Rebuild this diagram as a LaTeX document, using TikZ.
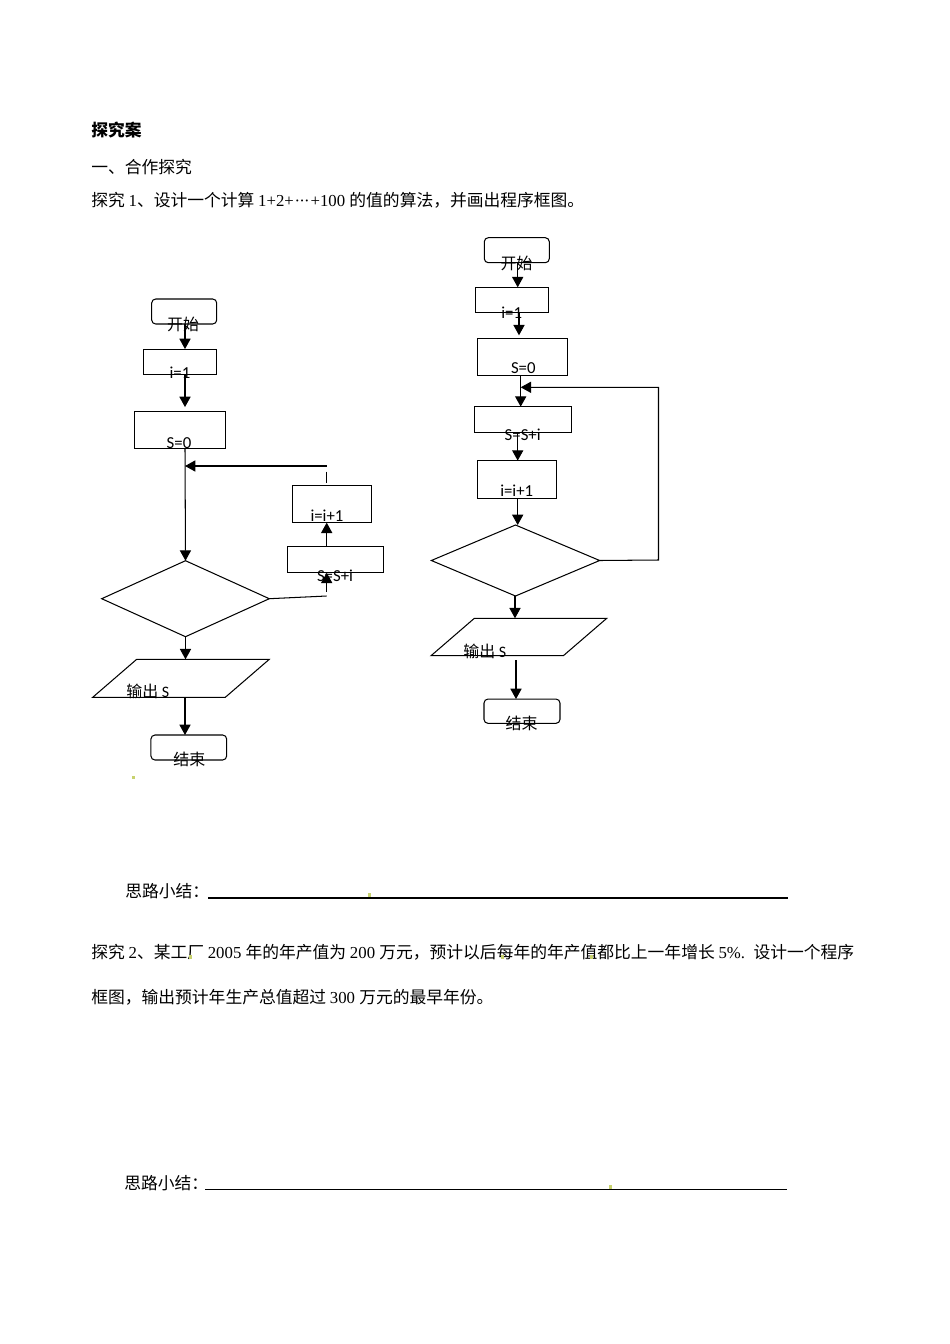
\documentclass[tikz,border=0pt]{standalone}
\usepackage{fontspec}
\setmainfont{Liberation Serif}
\newfontfamily\cjk{Noto Sans CJK SC}
\newfontfamily\carl{Carlito}
\usetikzlibrary{arrows.meta,shapes.geometric}
\tikzset{
  wh/.style 2 args={minimum width=#1*0.626pt,minimum height=#2*0.626pt},
  fbox/.style={draw,line width=0.65pt,inner sep=0pt,outer sep=0pt,rectangle},
  rbox/.style={fbox,rounded corners=2.5pt},
  dia/.style={draw,line width=0.65pt,inner sep=0pt,outer sep=0pt,diamond},
  ghost/.style={inner sep=0pt,outer sep=0pt,rectangle,draw=none},
  ln/.style={line width=0.65pt},
  arr/.style={line width=0.65pt,-{Triangle[length=6.5pt,width=7pt]}},
  lab/.style={inner sep=0pt,font=\carl\fontsize{10.5}{12}\selectfont},
  clab/.style={inner sep=0pt,font=\cjk\fontsize{10}{12}\selectfont},
  body/.style={inner sep=0pt,anchor=west,font=\fontsize{10.5}{12}\selectfont},
  uline/.style={line width=0.8pt},
  speck/.style={fill={rgb,255:red,200;green,210;blue,110},draw=none}
}
\begin{document}
\begin{tikzpicture}[x=0.626pt,y=-0.626pt]
\useasboundingbox (0,0) rectangle (950,1344);

% ---------- body text ----------
\node[body,font=\cjk\bfseries\fontsize{10.5}{12}\selectfont] (h1) at (91,130) {探究案};
\node[body] (h2) at (91,166.7) {{\cjk 一、合作探究}};
\node[body] (h3) at (91,200.7) {{\cjk 探究 }1{\cjk 、设计一个计算 }1+2+\kern0.05em·\kern-0.05em·\kern-0.05em·\kern0.05em+100 {\cjk 的值的算法，并画出程序框图。}};
\node[body] (sum1t) at (125,891) {{\cjk 思路小结：}};
\coordinate (u1a) at (208,898);
\coordinate (u1b) at (788,898);
\draw[uline] (u1a) -- (u1b);
\node[body] (h5) at (91,952.5) {{\cjk 探究 }2{\cjk 、某工厂 }2005 {\cjk 年的年产值为 }200 {\cjk 万元，预计以后每年的年产值都比上一年增长 }5\%.\ \ {\cjk 设计一个程序}};
\node[body] (h6) at (91,997) {{\cjk 框图，输出预计年生产总值超过 }300 {\cjk 万元的最早年份。}};
\node[body] (sum2t) at (124,1183) {{\cjk 思路小结：}};
\coordinate (u2a) at (205,1189.5);
\coordinate (u2b) at (787,1189.5);
\draw[uline] (u2a) -- (u2b);

% specks
\fill[speck] (132,776) rectangle (135,779);
\fill[speck] (368,893) rectangle (371,897);
\fill[speck] (189,955) rectangle (192,959);
\fill[speck] (501,955) rectangle (504,959);
\fill[speck] (590,955) rectangle (593,959);
\fill[speck] (609,1185) rectangle (612,1189);

% ---------- left flowchart ----------
\coordinate (spine1) at (185,0);
\node[rbox,wh={65}{25}] (start1) at (184.2,311.5) {};
\node[fbox,wh={72.7}{25.3}] (a1) at (179.7,361.7) {};
\node[fbox,wh={90.7}{37.3}] (s01) at (179.7,429.7) {};
\node[dia,wh={167.6}{76}] (dia1) at (185.5,598.7) {};
\node[fbox,wh={79.4}{36.7}] (inc1) at (332,504.3) {};
\node[fbox,wh={96}{26}] (sum1) at (335.3,559.7) {};
\node[ghost,wh={176.6}{38}] (out1) at (181,678.3) {};
\draw[ln] ([xshift=44*0.626pt]out1.north west) -- (out1.north east)
  -- ([xshift=-44*0.626pt]out1.south east) -- (out1.south west) -- cycle;
\node[rbox,wh={75.7}{25}] (end1) at (188.8,747.5) {};

\node[clab] (ts1) at (183,324.5) {开始};
\node[lab] (ta1) at (180,373) {i=1};
\node[lab] (tb1) at (179,443) {S=0};
\node[lab] (tc1) at (327,516) {i=i+1};
\node[lab] (td1) at (335,576) {S=S+i};
\node[clab,anchor=west] (te1) at (126,691.5) {输出 {\carl S}};
\node[clab] (tf1) at (189.3,759.5) {结束};

\draw[arr] (start1.south -| spine1) -- (a1.north -| spine1);
\draw[arr,shorten >=4*0.626pt] (a1.south -| spine1) -- (s01.north -| spine1);
\draw[arr] (s01.south -| spine1) -- (dia1.north);
\coordinate (fb1) at (326.7,466);
\draw[arr] (fb1) -- (fb1 -| spine1);
\coordinate (fb1b) at (326.7,471.7);
\draw[ln] (fb1b) -- ([yshift=3*0.626pt]fb1b |- inc1.north);
\coordinate (x1) at (326.7,0);
\draw[arr] (sum1.north -| x1) -- (inc1.south -| x1);
\coordinate (c1) at (326.7,596);
\draw[ln] (dia1.east) -- (c1);
\coordinate (c1b) at (326.7,592);
\draw[arr] (c1b) -- (c1b |- sum1.south);
\draw[arr] (dia1.south) -- (dia1.south |- out1.north);
\draw[arr] (out1.south -| spine1) -- (end1.north -| spine1);

% ---------- right flowchart ----------
\coordinate (xr1) at (517.7,0);
\coordinate (xr2) at (519,0);
\coordinate (xr3) at (520.7,0);
\coordinate (xr4) at (515,0);
\coordinate (xr5) at (516,0);
\node[rbox,wh={65}{25}] (start2) at (516.8,250.2) {};
\node[fbox,wh={72.6}{25}] (a2) at (512,299.8) {};
\node[fbox,wh={89.6}{37.4}] (s02) at (522.5,357) {};
\node[fbox,wh={96.7}{25.6}] (sum2) at (523.3,419.5) {};
\node[fbox,wh={79.4}{38.3}] (inc2) at (517,479.8) {};
\node[dia,wh={168.3}{71}] (dia2) at (515.5,560.5) {};
\node[ghost,wh={175.7}{37.4}] (out2) at (518.9,637) {};
\draw[ln] ([xshift=43.3*0.626pt]out2.north west) -- (out2.north east)
  -- ([xshift=-43.4*0.626pt]out2.south east) -- (out2.south west) -- cycle;
\node[rbox,wh={76}{24.3}] (end2) at (522,711.2) {};

\node[clab] (ts2) at (516.7,263.5) {开始};
\node[lab] (ta2) at (511.7,313) {i=1};
\node[lab] (tb2) at (523.3,368.5) {S=0};
\node[lab] (td2) at (522.7,435) {S=S+i};
\node[lab] (tc2) at (516.7,491) {i=i+1};
\node[clab,anchor=west] (te2) at (463,651) {输出 {\carl S}};
\node[clab] (tf2) at (521.7,723.5) {结束};

\draw[arr] (start2.south -| xr1) -- (a2.north -| xr1);
\draw[arr,shorten >=3*0.626pt] (a2.south -| xr2) -- (s02.north -| xr2);
\draw[arr] (s02.south -| xr3) -- (sum2.north -| xr3);
\draw[arr] (sum2.south -| xr1) -- (inc2.north -| xr1);
\draw[arr] (inc2.south -| xr1) -- (dia2.north -| xr1);
\coordinate (r1) at (658.5,560);
\coordinate (r2) at (658.5,387.3);
\draw[arr] (dia2.east) -- (r1) -- (r2) -- (r2 -| xr3);
\draw[arr] (dia2.south -| xr4) -- (out2.north -| xr4);
\coordinate (o2b) at (516,660);
\draw[arr] (o2b) -- (o2b |- end2.north);
\end{tikzpicture}
\end{document}
